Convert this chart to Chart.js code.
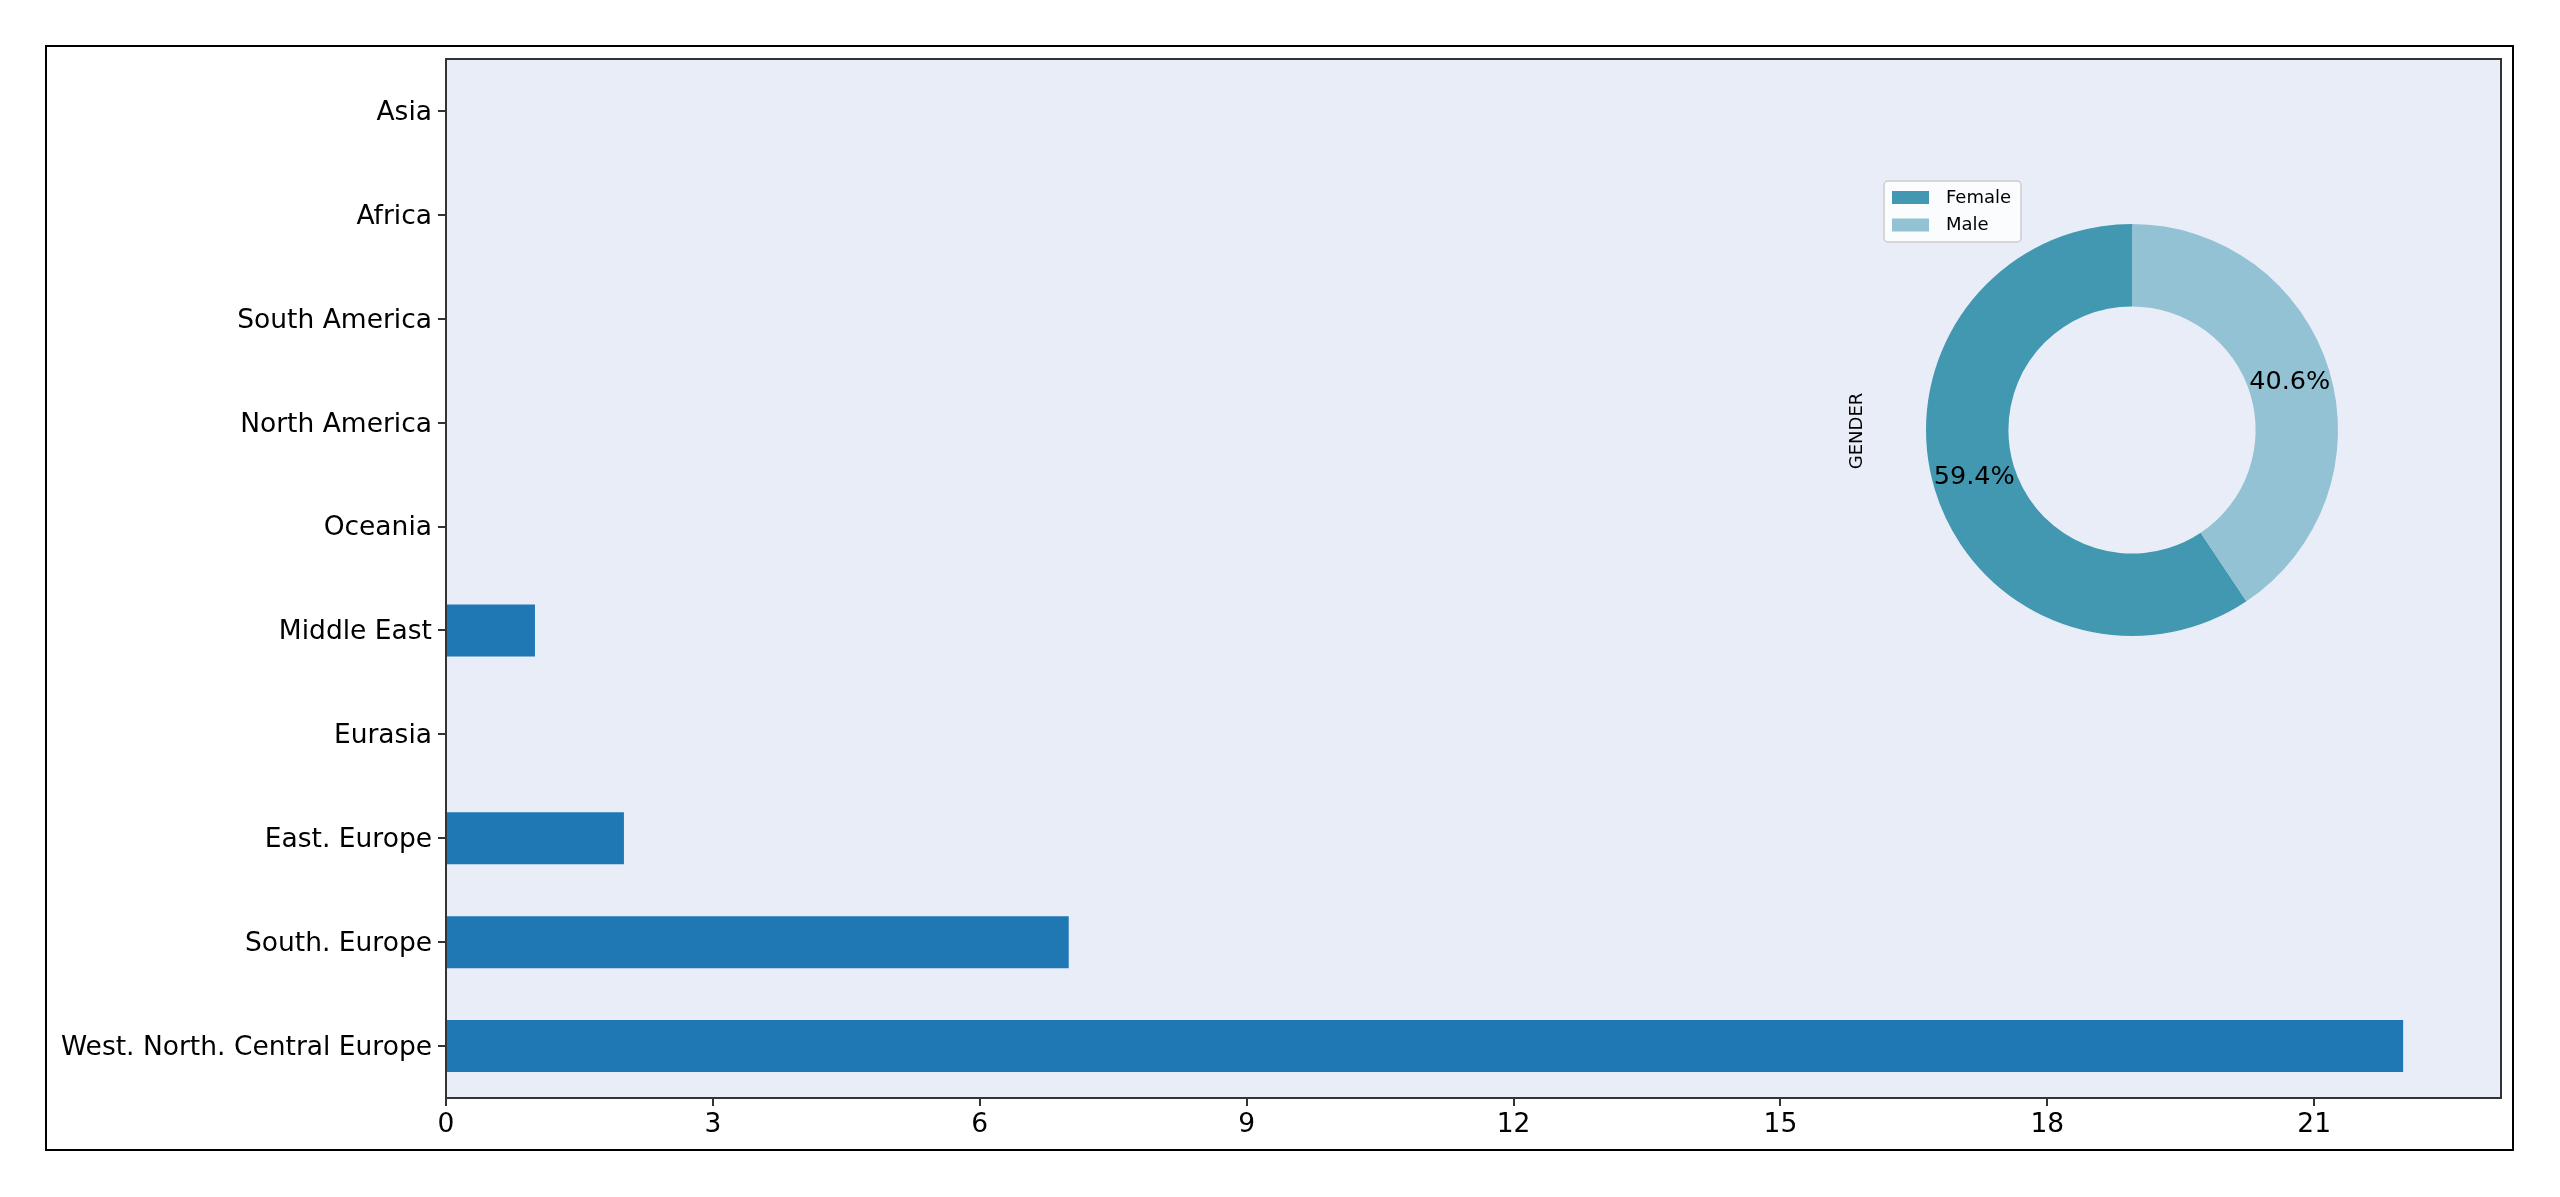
<!DOCTYPE html>
<html>
<head>
<meta charset="utf-8">
<script src="https://cdn.jsdelivr.net/npm/chart.js@4"></script>
<style>
  html, body { margin: 0; padding: 0; background: #fff; }
  #wrap { position: relative; width: 2560px; height: 1197px; }
  #barChart { position: absolute; left: 0; top: 0; }
  #pieChart { position: absolute; left: 1832px; top: 130px; }
</style>
</head>
<body>
<div id="wrap">
  <canvas id="barChart" width="2560" height="1197"></canvas>
  <canvas id="pieChart" width="600" height="600"></canvas>
</div>
<script>
const regions = ["Asia", "Africa", "South America", "North America", "Oceania",
  "Middle East", "Eurasia", "East. Europe", "South. Europe", "West. North. Central Europe"];
const regionCounts = [0, 0, 0, 0, 0, 1, 0, 2, 7, 22];
const xTicks = [0, 3, 6, 9, 12, 15, 18, 21];

const genders = ["Female", "Male"];
const genderCounts = [19, 13];
const genderColors = ["#4298b0", "#93c2d4"];

Chart.defaults.font.family = "'DejaVu Sans', sans-serif";
Chart.defaults.color = "#000";

const plotBg = "#e9edf7";

const frames = {
  id: "frames",
  beforeDraw(chart) {
    const { ctx, chartArea: a } = chart;
    ctx.save();
    ctx.fillStyle = "#fff";
    ctx.fillRect(0, 0, chart.width, chart.height);
    ctx.strokeStyle = "#000";
    ctx.lineWidth = 2;
    ctx.strokeRect(46, 46, 2467, 1104);
    ctx.fillStyle = plotBg;
    ctx.fillRect(a.left, a.top, a.right - a.left, a.bottom - a.top);
    ctx.restore();
  },
  afterDraw(chart) {
    const { ctx, chartArea: a } = chart;
    ctx.save();
    ctx.strokeStyle = "#333";
    ctx.lineWidth = 2;
    ctx.strokeRect(a.left, a.top, a.right - a.left, a.bottom - a.top);
    ctx.restore();
  }
};

new Chart(document.getElementById("barChart"), {
  type: "bar",
  data: {
    labels: regions,
    datasets: [{
      data: regionCounts,
      backgroundColor: "#1f77b4",
      borderWidth: 0,
      barPercentage: 0.5,
      categoryPercentage: 1.0
    }]
  },
  options: {
    indexAxis: "y",
    responsive: false,
    animation: false,
    devicePixelRatio: 1,
    layout: { padding: { left: 0, top: 59, right: 59, bottom: 0 } },
    plugins: { legend: { display: false }, tooltip: { enabled: false } },
    scales: {
      y: {
        offset: true,
        grid: { offset: false, drawOnChartArea: false, drawTicks: true, tickLength: 8, color: "#333", lineWidth: 2 },
        border: { display: false },
        ticks: { font: { size: 26.5 }, color: "#000", padding: 6, labelOffset: 2 },
        afterFit: (s) => { s.width = 446; }
      },
      x: {
        min: 0,
        max: 23.1,
        afterBuildTicks: (s) => { s.ticks = xTicks.map(v => ({ value: v })); },
        grid: { drawOnChartArea: false, drawTicks: true, tickLength: 8, color: "#333", lineWidth: 2 },
        border: { display: false },
        ticks: { font: { size: 26.5 }, color: "#000", padding: 3 },
        afterFit: (s) => { s.height = 99; }
      }
    }
  },
  plugins: [frames]
});

const pieExtras = {
  id: "pieExtras",
  afterDraw(chart) {
    const { ctx } = chart;
    const total = genderCounts.reduce((a, b) => a + b, 0);
    const arcs = chart.getDatasetMeta(0).data;
    ctx.save();
    // percentage labels
    ctx.fillStyle = "#000";
    ctx.font = "25.5px 'DejaVu Sans'";
    ctx.textAlign = "center";
    ctx.textBaseline = "middle";
    arcs.forEach((arc, i) => {
      const p = arc.getProps(["x", "y", "startAngle", "endAngle", "outerRadius"], true);
      const mid = (p.startAngle + p.endAngle) / 2;
      const r = p.outerRadius * 0.8;
      const pct = (genderCounts[i] / total * 100).toFixed(1) + "%";
      ctx.fillText(pct, p.x + Math.cos(mid) * r, p.y + Math.sin(mid) * r);
    });
    // y label
    ctx.save();
    ctx.translate(25, 301);
    ctx.rotate(-Math.PI / 2);
    ctx.font = "18px 'DejaVu Sans'";
    ctx.fillText("GENDER", 0, 0);
    ctx.restore();
    // legend box
    ctx.beginPath();
    ctx.roundRect(52, 51, 137, 61, 4);
    ctx.fillStyle = "rgba(255,255,255,0.8)";
    ctx.fill();
    ctx.strokeStyle = "#cccccc";
    ctx.lineWidth = 1.5;
    ctx.stroke();
    ctx.font = "18px 'DejaVu Sans'";
    ctx.textAlign = "left";
    genders.forEach((g, i) => {
      const y = 61 + i * 27.5;
      ctx.fillStyle = genderColors[i];
      ctx.fillRect(60, y, 37, 13);
      ctx.fillStyle = "#000";
      ctx.fillText(g, 114, y + 7);
    });
    ctx.restore();
  }
};

new Chart(document.getElementById("pieChart"), {
  type: "doughnut",
  data: {
    labels: genders,
    datasets: [{
      data: genderCounts,
      backgroundColor: genderColors,
      borderWidth: 0
    }]
  },
  options: {
    responsive: false,
    animation: false,
    devicePixelRatio: 1,
    rotation: 360 * genderCounts[1] / (genderCounts[0] + genderCounts[1]),
    cutout: "60%",
    layout: { padding: 94 },
    plugins: { legend: { display: false }, tooltip: { enabled: false } }
  },
  plugins: [pieExtras]
});
</script>
</body>
</html>
